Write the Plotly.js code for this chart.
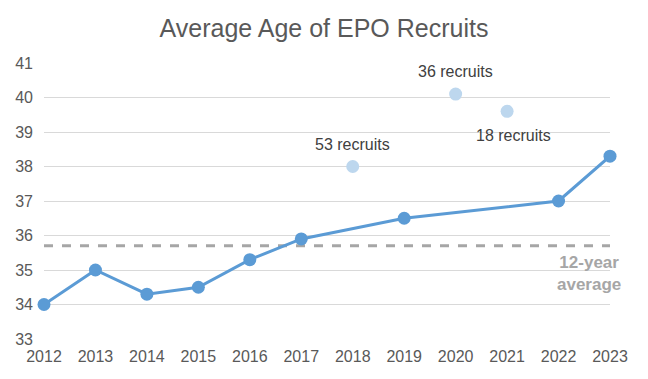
<!DOCTYPE html>
<html><head><meta charset="utf-8">
<script src="https://cdn.plot.ly/plotly-3.0.1.min.js"></script>
<style>html,body{margin:0;padding:0;background:#fff}#c{width:648px;height:379px}</style>
</head><body><div id="c"></div>
<script>
const years = [2012,2013,2014,2015,2016,2017,2018,2019,2020,2021,2022,2023];
const mainAge = [34.0,35.0,34.3,34.5,35.3,35.9,null,36.5,null,null,37.0,38.3];
const smallYears = [2018,2020,2021];
const smallAge = [38.0,40.1,39.6];
const smallLabels = ["53 recruits","36 recruits","18 recruits"];
const avgYears = [2012,2023];
const avgAge = [35.7,35.7];
const yTicks = [33,34,35,36,37,38,39,40,41];

const FONT = 'Liberation Sans, Arial, sans-serif';
const traces = [
  {x: avgYears, y: avgAge, mode:'lines', line:{color:'#A6A6A6', width:3, dash:'dash'}, hoverinfo:'skip', cliponaxis:false},
  {x: years, y: mainAge, mode:'lines+markers', connectgaps:true,
   line:{color:'#5B9BD5', width:3}, marker:{color:'#5B9BD5', size:13}, cliponaxis:false},
  {x: smallYears, y: smallAge, mode:'markers', marker:{color:'#BDD7EE', size:13}, cliponaxis:false}
];

const annShift = [[0,22],[0,23],[6,-24]];
const annotations = smallYears.map((yr,i)=>({
  x: yr, y: smallAge[i], text: smallLabels[i], showarrow:false,
  xshift: annShift[i][0], yshift: annShift[i][1],
  font:{family:FONT, size:16, color:'#404040'}
}));
annotations.push({
  x: 2022.6, y: avgAge[0], text:'<b>12-year<br>average</b>', showarrow:false,
  yshift:-28, font:{family:FONT, size:17, color:'#A6A6A6'}
});

const layout = {
  width:648, height:379,
  margin:{l:44, r:38, t:63, b:40},
  paper_bgcolor:'#fff', plot_bgcolor:'#fff',
  showlegend:false,
  title:{text:'Average Age of EPO Recruits', x:0.5, xanchor:'center', y:0.925, yanchor:'middle',
    font:{family:FONT, size:25, color:'#595959'}},
  xaxis:{range:[2012,2023], tickvals:years, ticktext:years.map(String), showgrid:false, zeroline:false,
    showline:false, ticks:'', fixedrange:true, ticklabelstandoff:6,
    tickfont:{family:FONT, size:16, color:'#595959'}},
  yaxis:{range:[33,41], tickvals:yTicks, ticktext:yTicks.map(String), showgrid:true, gridcolor:'#D9D9D9', gridwidth:1,
    zeroline:false, showline:false, ticks:'', ticklabelstandoff:10,
    tickfont:{family:FONT, size:16, color:'#595959'}},
  annotations: annotations
};
Plotly.newPlot('c', traces, layout, {displayModeBar:false, staticPlot:true});
</script></body></html>
